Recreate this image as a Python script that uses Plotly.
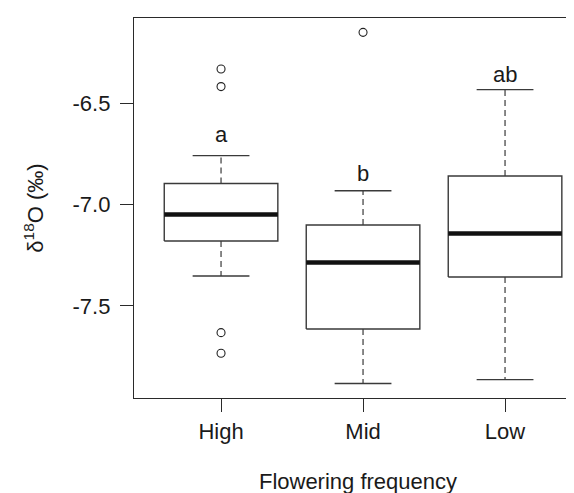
import plotly.graph_objects as go

# ---- data ----
categories = ["High", "Mid", "Low"]
lower_whisker = [-7.352, -7.883, -7.864]
q1 = [-7.179, -7.614, -7.357]
median = [-7.048, -7.285, -7.142]
q3 = [-6.895, -7.100, -6.858]
upper_whisker = [-6.757, -6.931, -6.431]
outliers = [[-6.329, -6.416, -7.632, -7.734], [-6.148], []]
letters = ["a", "b", "ab"]
letter_y = [-6.655, -6.845, -6.355]
y_tick_vals = [-6.5, -7.0, -7.5]
y_tick_text = ["-6.5", "-7.0", "-7.5"]

FONT = "Liberation Sans, Arial, Helvetica, sans-serif"
TXT = "#1a1a1a"
BOXW = 0.4   # half box width
CAPW = 0.2   # half cap width
pos = [i + 1 for i in range(len(categories))]

bx, by, mx, my, wx, wy, cx, cy = [], [], [], [], [], [], [], []
for p, a, b, m, c, d in zip(pos, lower_whisker, q1, median, q3, upper_whisker):
    bx += [p - BOXW, p + BOXW, p + BOXW, p - BOXW, p - BOXW, None]
    by += [b, b, c, c, b, None]
    mx += [p - BOXW, p + BOXW, None]
    my += [m, m, None]
    wx += [p, p, None, p, p, None]
    wy += [c, d, None, b, a, None]
    cx += [p - CAPW, p + CAPW, None, p - CAPW, p + CAPW, None]
    cy += [d, d, None, a, a, None]

ox, oy = [], []
for p, outs in zip(pos, outliers):
    for v in outs:
        ox.append(p)
        oy.append(v)

fig = go.Figure()
fig.add_trace(go.Scatter(x=wx, y=wy, mode="lines",
                         line=dict(color="#3a3a3a", width=1.2, dash="6px,4px"),
                         hoverinfo="skip"))
fig.add_trace(go.Scatter(x=cx, y=cy, mode="lines",
                         line=dict(color="#3a3a3a", width=1.4), hoverinfo="skip"))
fig.add_trace(go.Scatter(x=bx, y=by, mode="lines",
                         line=dict(color="#3a3a3a", width=1.4), hoverinfo="skip"))
fig.add_trace(go.Scatter(x=mx, y=my, mode="lines",
                         line=dict(color="#111111", width=4.5), hoverinfo="skip"))
fig.add_trace(go.Scatter(x=ox, y=oy, mode="markers",
                         marker=dict(symbol="circle-open", size=8,
                                     color="#222222", line=dict(width=1.1)),
                         hoverinfo="skip"))

for p, t, yv in zip(pos, letters, letter_y):
    fig.add_annotation(x=p, y=yv, text=t, showarrow=False,
                       font=dict(family=FONT, size=22, color=TXT),
                       xanchor="center", yanchor="middle")

fig.update_layout(
    width=574, height=493,
    margin=dict(l=126, r=0, t=10, b=103),
    paper_bgcolor="white", plot_bgcolor="white",
    showlegend=False,
    font=dict(family=FONT, size=22, color=TXT),
)
fig.update_xaxes(
    range=[0.387, 3.542], tickvals=pos, ticktext=categories,
    showgrid=False, zeroline=False,
    showline=True, linecolor="#2a2a2a", linewidth=1.3, mirror=True,
    ticks="outside", ticklen=13, tickwidth=1.3, tickcolor="#2a2a2a",
    tickfont=dict(family=FONT, size=22, color=TXT),
    title=dict(text="Flowering frequency", font=dict(family=FONT, size=22, color=TXT),
               standoff=31),
)
fig.update_yaxes(
    range=[-7.955, -6.077], tickvals=y_tick_vals, ticktext=y_tick_text,
    showgrid=False, zeroline=False,
    showline=True, linecolor="#2a2a2a", linewidth=1.3, mirror=False,
    ticks="outside", ticklen=13, tickwidth=1.3, tickcolor="#2a2a2a",
    ticklabelstandoff=5,
    tickfont=dict(family=FONT, size=22, color=TXT),
    title=dict(text="δ<sup>18</sup>O (‰)", font=dict(family=FONT, size=22, color=TXT),
               standoff=22),
)

fig.write_html("out.html")
